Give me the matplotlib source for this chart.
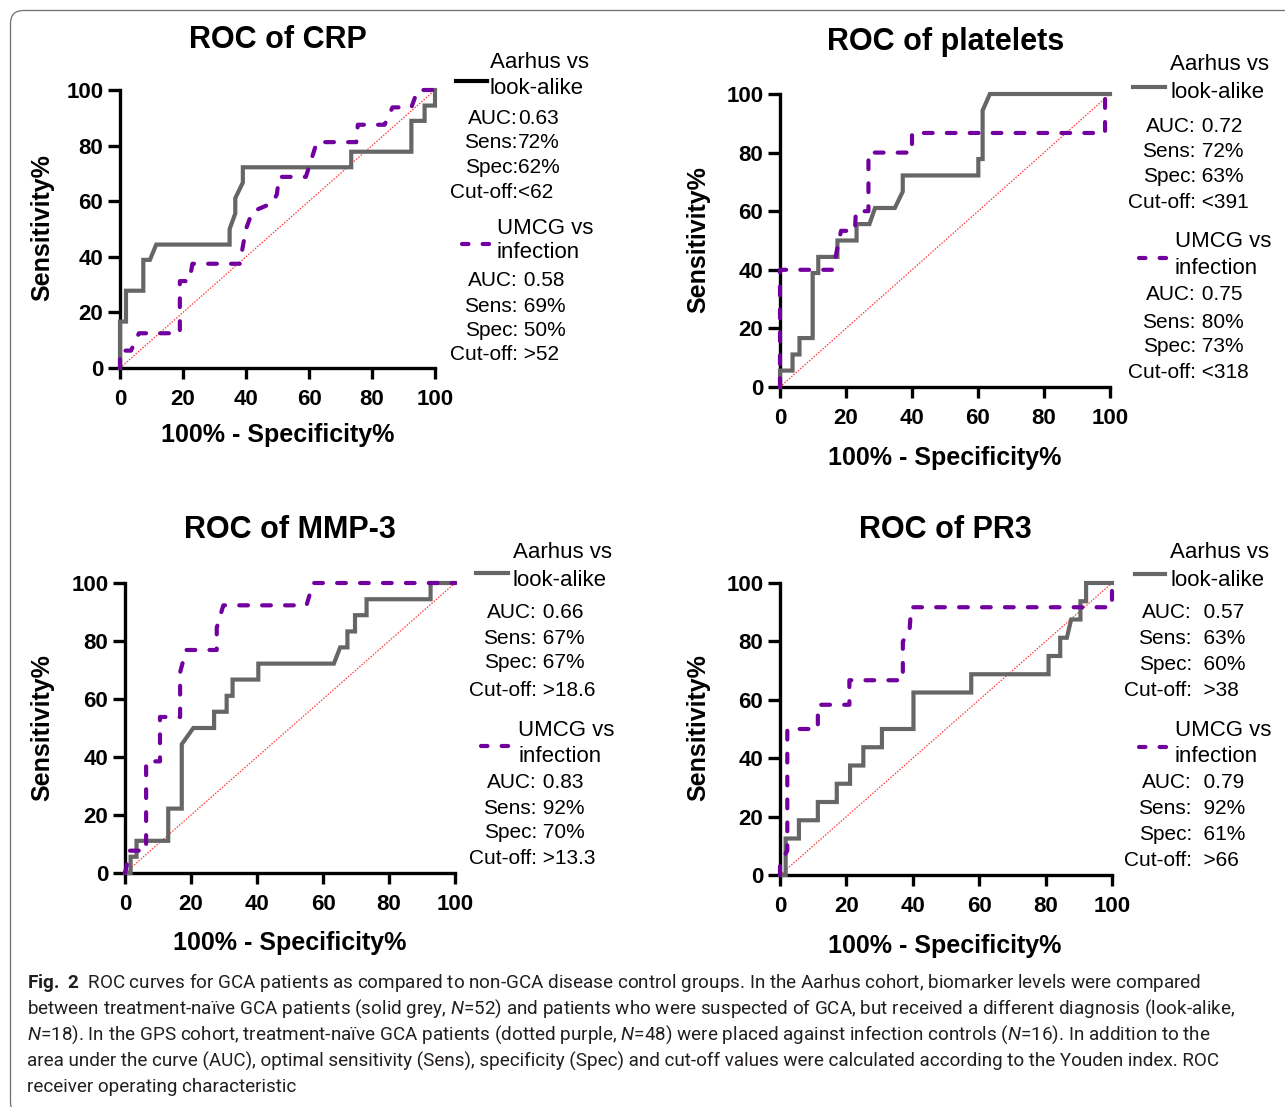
import matplotlib
matplotlib.use("Agg")
import matplotlib.pyplot as plt
from matplotlib.lines import Line2D
from matplotlib.patches import FancyBboxPatch

plt.rcParams['font.family'] = ['Liberation Sans', 'DejaVu Sans']
plt.rcParams['mathtext.fontset'] = 'custom'
plt.rcParams['mathtext.rm'] = 'Roboto'
plt.rcParams['mathtext.it'] = 'Roboto:italic'
plt.rcParams['mathtext.bf'] = 'Roboto:bold'

# ---- data (x = 100% - specificity, y = sensitivity) ----
crp_aar_x = [0, 0, 1.9, 1.9, 7.4, 7.4, 9.5, 11.5, 34.8, 34.8, 36.6, 36.6, 39, 39,
             73.4, 73.4, 92.5, 92.5, 96.7, 96.7, 100, 100]
crp_aar_y = [0, 16.7, 16.7, 27.8, 27.8, 38.9, 38.9, 44.4, 44.4, 50, 55.6, 61.1, 66.7, 72.2,
             72.2, 77.8, 77.8, 88.9, 88.9, 94.4, 94.4, 100]
crp_umcg_x = [0, 0, 3.5, 6, 19, 19, 22, 23, 38, 40, 42, 48.5, 49.8, 50.5, 59, 62.5,
              75, 75.5, 84, 86.5, 92.5, 94.5, 100]
crp_umcg_y = [0, 6.25, 6.25, 12.5, 12.5, 31.25, 31.25, 37.5, 37.5, 50, 56.25, 59.4, 62.5,
              68.75, 68.75, 81.25, 81.25, 87.5, 87.5, 93.75, 93.75, 100, 100]

plt_aar_x = [0, 0, 3.8, 3.8, 5.9, 5.9, 9.9, 9.9, 11.6, 11.6, 17.4, 17.4, 23.2, 23.2,
             27.1, 28.8, 34.8, 37.2, 37.2, 60.1, 60.1, 61.4, 61.4, 63.6, 100]
plt_aar_y = [0, 5.6, 5.6, 11.1, 11.1, 16.7, 16.7, 38.9, 38.9, 44.4, 44.4, 50, 50, 55.6,
             55.6, 61.1, 61.1, 66.7, 72.2, 72.2, 77.8, 77.8, 94.4, 100, 100]
plt_umcg_x = [0, 0, 16, 18.5, 22.7, 23, 26.8, 26.8, 40, 40, 98.5, 98.5, 100]
plt_umcg_y = [0, 40, 40, 53.3, 53.3, 60, 60, 80, 80, 86.7, 86.7, 100, 100]

mmp_aar_x = [0, 1.7, 1.7, 3.5, 3.5, 13.1, 13.1, 17.2, 17.2, 20.7, 27, 27, 30.8, 30.8,
             32.6, 32.6, 40.4, 40.4, 63.3, 65.2, 67.4, 67.4, 69.7, 69.7, 73.2, 73.2,
             92.6, 92.6, 100]
mmp_aar_y = [0, 0, 5.6, 5.6, 11.1, 11.1, 22.2, 22.2, 44.4, 50, 50, 55.6, 55.6, 61.1,
             61.1, 66.7, 66.7, 72.2, 72.2, 77.8, 77.8, 83.3, 83.3, 88.9, 88.9, 94.4,
             94.4, 100, 100]
mmp_umcg_x = [0, 1.5, 6.4, 6.4, 10.6, 10.6, 16.7, 16.7, 18.5, 27.8, 27.8, 29.8, 55, 57, 100]
mmp_umcg_y = [0, 7.7, 7.7, 38.5, 38.5, 53.8, 53.8, 69.2, 76.9, 76.9, 84.6, 92.3, 92.3, 100, 100]

pr3_aar_x = [0, 1.7, 1.7, 5.7, 5.7, 11.4, 11.4, 17.1, 17.1, 21.1, 21.1, 25.1, 25.1, 30.7,
             30.7, 40.2, 40.2, 57.6, 57.6, 80.9, 80.9, 84.4, 84.4, 86.4, 87.7, 90.5,
             90.5, 92.2, 92.2, 100]
pr3_aar_y = [0, 0, 12.5, 12.5, 18.75, 18.75, 25, 25, 31.25, 31.25, 37.5, 37.5, 43.75, 43.75,
             50, 50, 62.5, 62.5, 68.75, 68.75, 75, 75, 81.25, 81.25, 87.5, 87.5,
             93.75, 93.75, 100, 100]
pr3_umcg_x = [0, 0, 2.2, 2.2, 11.4, 11.4, 20.9, 20.9, 37, 37, 39, 39.5, 100, 100]
pr3_umcg_y = [0, 4.2, 8.3, 50, 50, 58.3, 58.3, 66.7, 66.7, 80, 83.3, 91.7, 91.7, 100]

titles = ['ROC of CRP', 'ROC of platelets', 'ROC of MMP-3', 'ROC of PR3']
stats_aar = [
    [('AUC:', '0.63'), ('Sens:', '72%'), ('Spec:', '62%'), ('Cut-off:', '<62')],
    [('AUC:', ' 0.72'), ('Sens:', ' 72%'), ('Spec:', ' 63%'), ('Cut-off:', ' <391')],
    [('AUC:', ' 0.66'), ('Sens:', ' 67%'), ('Spec:', ' 67%'), ('Cut-off:', ' >18.6')],
    [('AUC:', '  0.57'), ('Sens:', '  63%'), ('Spec:', '  60%'), ('Cut-off:', '  >38')],
]
stats_umcg = [
    [('AUC:', ' 0.58'), ('Sens:', ' 69%'), ('Spec:', ' 50%'), ('Cut-off:', ' >52')],
    [('AUC:', ' 0.75'), ('Sens:', ' 80%'), ('Spec:', ' 73%'), ('Cut-off:', ' <318')],
    [('AUC:', ' 0.83'), ('Sens:', ' 92%'), ('Spec:', ' 70%'), ('Cut-off:', ' >13.3')],
    [('AUC:', '  0.79'), ('Sens:', '  92%'), ('Spec:', '  61%'), ('Cut-off:', '  >66')],
]
curves = [(crp_aar_x, crp_aar_y, crp_umcg_x, crp_umcg_y),
          (plt_aar_x, plt_aar_y, plt_umcg_x, plt_umcg_y),
          (mmp_aar_x, mmp_aar_y, mmp_umcg_x, mmp_umcg_y),
          (pr3_aar_x, pr3_aar_y, pr3_umcg_x, pr3_umcg_y)]

caption = [
    r"$\bf{Fig.\ 2}$  ROC curves for GCA patients as compared to non-GCA disease control groups. In the Aarhus cohort, biomarker levels were compared",
    r"between treatment-naïve GCA patients (solid grey, $\it{N}$=52) and patients who were suspected of GCA, but received a different diagnosis (look-alike,",
    r"$\it{N}$=18). In the GPS cohort, treatment-naïve GCA patients (dotted purple, $\it{N}$=48) were placed against infection controls ($\it{N}$=16). In addition to the",
    r"area under the curve (AUC), optimal sensitivity (Sens), specificity (Spec) and cut-off values were calculated according to the Youden index. ROC",
    r"receiver operating characteristic",
]

# ---- layout (pixels) ----
W, H = 1285, 1107
GREY = '#666666'
PURPLE = '#72009e'

def fx(x):
    return x / W

def fy(y):
    return 1 - y / H

layout = [
    dict(box=(120, 435, 90, 368), title=(278, 40), ylab=(42, 228), xlab=(278, 435),
         lab_x=490, h1=(456, 487, 81), h2=(460, 491, 244), colon=518,
         y_aar=(62, 88, [119, 143, 168, 192]), y_umcg=(228, 253, [281, 306, 330, 355]),
         lab2_x=497, handle1='black'),
    dict(box=(780, 1110, 94, 387), title=(946, 42), ylab=(698, 240), xlab=(945, 458),
         lab_x=1170, h1=(1133, 1165, 87), h2=(1137, 1168, 258), colon=1196,
         y_aar=(65, 93, [127, 152, 177, 202]), y_umcg=(242, 268, [295, 322, 347, 373]),
         lab2_x=1175, handle1=GREY),
    dict(box=(125, 455, 583, 873), title=(290, 530), ylab=(42, 728), xlab=(290, 943),
         lab_x=513, h1=(476, 508, 573), h2=(479, 512, 746), colon=537,
         y_aar=(553, 580, [613, 638, 663, 690]), y_umcg=(730, 757, [783, 808, 833, 858]),
         lab2_x=518, handle1=GREY),
    dict(box=(780, 1112, 583, 875), title=(945, 530), ylab=(698, 728), xlab=(945, 946),
         lab_x=1170, h1=(1135, 1165, 574), h2=(1137, 1168, 747), colon=1192,
         y_aar=(553, 580, [613, 639, 664, 690]), y_umcg=(730, 757, [783, 809, 835, 861]),
         lab2_x=1175, handle1=GREY),
]

fig = plt.figure(figsize=(W / 100, H / 100), dpi=100)

# rounded frame around figure + caption
frame = FancyBboxPatch((10.5, -8), 1300, H - 10.5 + 8, boxstyle="round,pad=0,rounding_size=13",
                       transform=None, fill=False, edgecolor='#6f6f6f', linewidth=0.9)
fig.add_artist(frame)

for i, lay in enumerate(layout):
    l, r, t, b = lay['box']
    ax = fig.add_axes([fx(l), fy(b), (r - l) / W, (b - t) / H])
    ax.set_xlim(0, 100)
    ax.set_ylim(0, 100)
    gx, gy, ux, uy = curves[i]
    ax.plot([0, 100], [0, 100], color='#ff3b3b', lw=0.9, ls=(0, (1.2, 1.2)), clip_on=False, zorder=1)
    ax.plot(gx, gy, color=GREY, lw=3.0, solid_joinstyle='miter', clip_on=False, zorder=3)
    ax.plot(ux, uy, color=PURPLE, lw=3.0, ls=(0, (2.1, 3.4)), dash_capstyle='round',
            clip_on=False, zorder=4)
    for s in ['top', 'right']:
        ax.spines[s].set_visible(False)
    for s in ['left', 'bottom']:
        ax.spines[s].set_linewidth(2.4)
    ax.set_xticks(range(0, 101, 20))
    ax.set_yticks(range(0, 101, 20))
    ax.tick_params(axis='x', length=8, width=2.4, pad=7, labelsize=16)
    ax.tick_params(axis='y', length=9, width=2.4, pad=3, labelsize=16)
    for lbl in ax.get_xticklabels() + ax.get_yticklabels():
        lbl.set_fontweight('bold')

    fig.text(fx(lay['title'][0]), fy(lay['title'][1]), titles[i], fontsize=22,
             fontweight='bold', ha='center', va='center')
    fig.text(fx(lay['ylab'][0]), fy(lay['ylab'][1]), 'Sensitivity%', fontsize=18,
             fontweight='bold', ha='center', va='center', rotation=90)
    fig.text(fx(lay['xlab'][0]), fy(lay['xlab'][1]), '100% - Specificity%', fontsize=18,
             fontweight='bold', ha='center', va='center')

    # legend block 1 (Aarhus)
    y1, y2, ys = lay['y_aar']
    fig.text(fx(lay['lab_x']), fy(y1), 'Aarhus vs', fontsize=16, va='center')
    fig.text(fx(lay['lab_x']), fy(y2), 'look-alike', fontsize=16, va='center')
    x0, x1, yh = lay['h1']
    fig.add_artist(Line2D([fx(x0), fx(x1)], [fy(yh), fy(yh)], color=lay['handle1'], lw=3.0))
    for (k, v), yy in zip(stats_aar[i], ys):
        fig.text(fx(lay['colon']), fy(yy), k, fontsize=15, va='center', ha='right')
        fig.text(fx(lay['colon']), fy(yy), v, fontsize=15, va='center', ha='left')

    # legend block 2 (UMCG)
    y1, y2, ys = lay['y_umcg']
    fig.text(fx(lay['lab2_x']), fy(y1), 'UMCG vs', fontsize=16, va='center')
    fig.text(fx(lay['lab2_x']), fy(y2), 'infection', fontsize=16, va='center')
    x0, x1, yh = lay['h2']
    fig.add_artist(Line2D([fx(x0 + 1.5), fx(x1 - 1.5)], [fy(yh), fy(yh)], color=PURPLE, lw=3.0,
                          ls=(0, (1.55, 3.4)), dash_capstyle='round'))
    for (k, v), yy in zip(stats_umcg[i], ys):
        fig.text(fx(lay['colon']), fy(yy), k, fontsize=15, va='center', ha='right')
        fig.text(fx(lay['colon']), fy(yy), v, fontsize=15, va='center', ha='left')

# caption: size the font so the 4th line spans the same width as in the figure
renderer = fig.canvas.get_renderer()
probe = fig.text(0, 0, caption[3], fontsize=14, family='Roboto')
cap_size = 14 * 1205 / probe.get_window_extent(renderer=renderer).width
probe.remove()
for j, line in enumerate(caption):
    fig.text(fx(27), fy(983 + 26 * j), line, fontsize=cap_size, va='center', ha='left',
             family='Roboto', color='#231f20')

fig.savefig('out.png', dpi=100)
